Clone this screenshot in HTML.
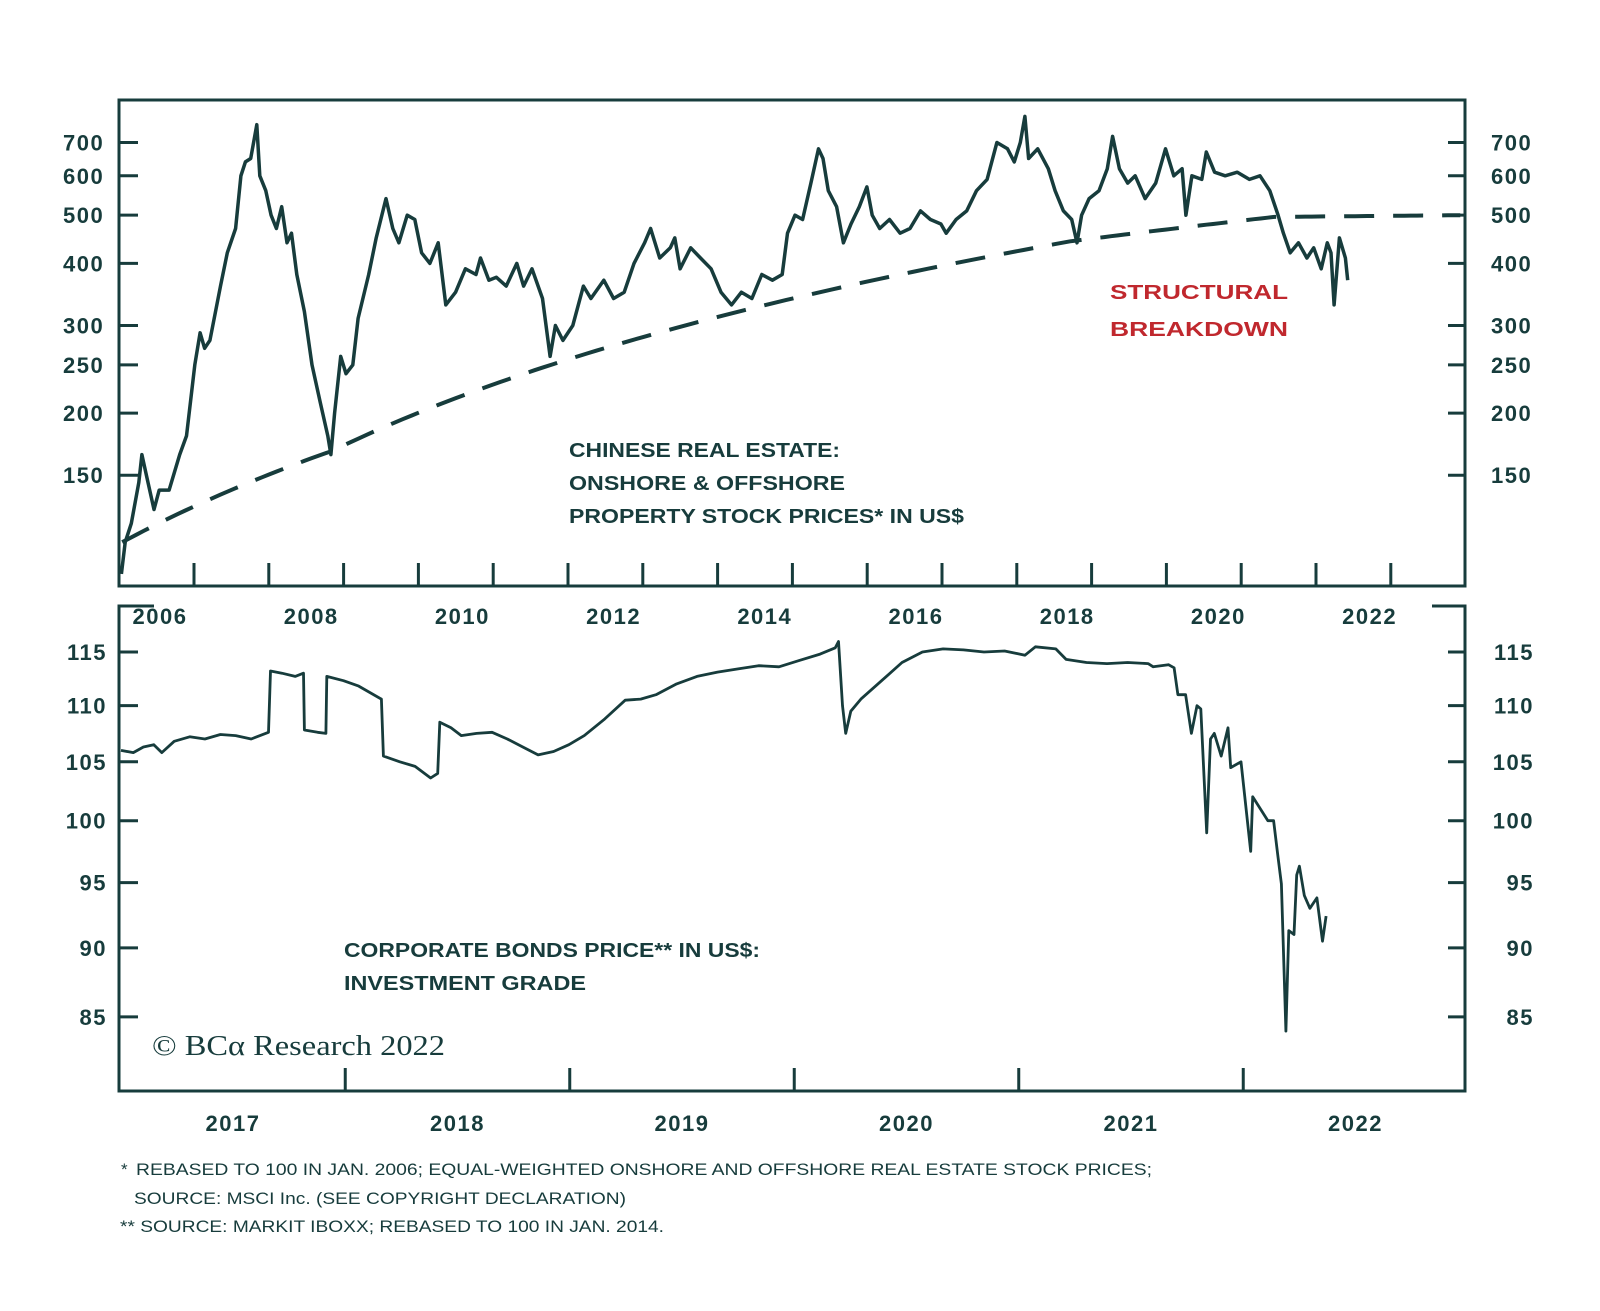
<!DOCTYPE html>
<html><head><meta charset="utf-8"><title>Chinese Real Estate</title>
<style>
html,body{margin:0;padding:0;background:#fff;}
svg{display:block;font-family:"Liberation Sans",sans-serif;}
.tk{font-weight:bold;font-size:22px;fill:#173c3c;letter-spacing:1.5px;}
.lbl{font-weight:bold;font-size:20px;fill:#173c3c;}
.fn{font-size:17px;fill:#173c3c;}
</style></head>
<body>
<svg id="chart" width="1600" height="1311" viewBox="0 0 1600 1311">
  <g id="top"></g>
  <g id="bot"></g>
  <g>
    <text class="lbl" x="569" y="457" textLength="271" lengthAdjust="spacingAndGlyphs">CHINESE REAL ESTATE:</text>
    <text class="lbl" x="569" y="490" textLength="276" lengthAdjust="spacingAndGlyphs">ONSHORE &amp; OFFSHORE</text>
    <text class="lbl" x="569" y="523" textLength="395" lengthAdjust="spacingAndGlyphs">PROPERTY STOCK PRICES* IN US$</text>
    <text class="lbl" x="1110" y="299" textLength="178" lengthAdjust="spacingAndGlyphs" style="fill:#c0282e">STRUCTURAL</text>
    <text class="lbl" x="1110" y="336" textLength="178" lengthAdjust="spacingAndGlyphs" style="fill:#c0282e">BREAKDOWN</text>
  </g>
  <g>
    <text class="lbl" x="344" y="957" textLength="416" lengthAdjust="spacingAndGlyphs">CORPORATE BONDS PRICE** IN US$:</text>
    <text class="lbl" x="344" y="990" textLength="242" lengthAdjust="spacingAndGlyphs">INVESTMENT GRADE</text>
    <text x="152" y="1055" textLength="293" lengthAdjust="spacingAndGlyphs" style="font-family:'Liberation Serif',serif;font-size:29px;fill:#173c3c">© BCα Research 2022</text>
  </g>
  <g>
    <text class="fn" x="121" y="1175">*</text>
    <text class="fn" x="136" y="1175" textLength="1016" lengthAdjust="spacingAndGlyphs">REBASED TO 100 IN JAN. 2006; EQUAL-WEIGHTED ONSHORE AND OFFSHORE REAL ESTATE STOCK PRICES;</text>
    <text class="fn" x="134" y="1204" textLength="492" lengthAdjust="spacingAndGlyphs">SOURCE: MSCI Inc. (SEE COPYRIGHT DECLARATION)</text>
    <text class="fn" x="120" y="1232" textLength="544" lengthAdjust="spacingAndGlyphs">** SOURCE: MARKIT IBOXX; REBASED TO 100 IN JAN. 2014.</text>
  </g>
</svg>
<script>
// ---- top panel data ----
const topDates=[2005.49,2005.54,2005.62,2005.72,2005.76,2005.82,2005.92,2005.99,2006.12,2006.26,2006.35,2006.46,2006.53,2006.59,2006.66,2006.80,2006.89,2007.00,2007.07,2007.13,2007.20,2007.28,2007.32,2007.40,2007.47,2007.54,2007.61,2007.68,2007.74,2007.81,2007.91,2008.01,2008.12,2008.22,2008.26,2008.31,2008.39,2008.46,2008.55,2008.62,2008.76,2008.86,2008.99,2009.08,2009.16,2009.27,2009.37,2009.46,2009.57,2009.68,2009.78,2009.91,2010.04,2010.18,2010.24,2010.35,2010.45,2010.58,2010.72,2010.81,2010.92,2011.06,2011.16,2011.23,2011.33,2011.46,2011.60,2011.70,2011.87,2012.00,2012.14,2012.27,2012.41,2012.49,2012.61,2012.75,2012.81,2012.88,2013.02,2013.15,2013.29,2013.42,2013.56,2013.69,2013.83,2013.96,2014.10,2014.23,2014.30,2014.40,2014.50,2014.61,2014.71,2014.77,2014.84,2014.95,2015.04,2015.14,2015.25,2015.35,2015.42,2015.52,2015.65,2015.79,2015.92,2016.06,2016.19,2016.33,2016.40,2016.53,2016.67,2016.80,2016.94,2017.07,2017.21,2017.30,2017.38,2017.44,2017.49,2017.61,2017.75,2017.84,2017.95,2018.06,2018.13,2018.19,2018.29,2018.42,2018.53,2018.60,2018.69,2018.80,2018.90,2019.03,2019.17,2019.30,2019.41,2019.52,2019.57,2019.65,2019.78,2019.84,2019.95,2020.09,2020.25,2020.41,2020.55,2020.68,2020.79,2020.86,2020.95,2021.06,2021.17,2021.26,2021.36,2021.44,2021.49,2021.53,2021.60,2021.68,2021.71];
const topValues=[95,110,120,145,165,150,128,140,140,165,180,250,290,270,280,360,420,470,600,640,650,760,600,560,500,470,520,440,460,380,320,250,210,180,165,200,260,240,250,310,380,450,540,470,440,500,490,420,400,440,330,350,390,380,410,370,375,360,400,360,390,340,260,300,280,300,360,340,370,340,350,400,440,470,410,430,450,390,430,410,390,350,330,350,340,380,370,380,460,500,490,580,680,650,560,520,440,480,520,570,500,470,490,460,470,510,490,480,460,490,510,560,590,700,680,640,700,790,650,680,620,560,510,490,440,500,540,560,620,720,620,580,600,540,580,680,600,620,500,600,590,670,610,600,610,590,600,560,500,460,420,440,410,430,390,440,420,330,450,410,370];
const trendDates=[2005.5,2008.28,2011.77,2018.04,2020.74,2023.2];
const trendValues=[110,168,267,443,496,500];
const topTicks=[150,200,250,300,400,500,600,700];
const topYearLabels=[2006,2008,2010,2012,2014,2016,2018,2020,2022];
// ---- bottom panel data ----
const botDates=[2016.501,2016.556,2016.601,2016.647,2016.683,2016.738,2016.807,2016.875,2016.944,2017.012,2017.081,2017.158,2017.167,2017.218,2017.277,2017.314,2017.318,2017.377,2017.414,2017.418,2017.492,2017.560,2017.661,2017.670,2017.743,2017.811,2017.880,2017.912,2017.921,2017.971,2018.017,2018.085,2018.154,2018.222,2018.291,2018.359,2018.428,2018.496,2018.565,2018.656,2018.747,2018.816,2018.884,2018.976,2019.067,2019.158,2019.250,2019.341,2019.432,2019.523,2019.615,2019.683,2019.697,2019.715,2019.729,2019.752,2019.797,2019.889,2019.980,2020.071,2020.163,2020.254,2020.345,2020.437,2020.528,2020.574,2020.665,2020.711,2020.802,2020.893,2020.985,2021.076,2021.099,2021.167,2021.192,2021.209,2021.243,2021.269,2021.294,2021.311,2021.337,2021.354,2021.371,2021.402,2021.432,2021.444,2021.490,2021.533,2021.542,2021.576,2021.610,2021.635,2021.653,2021.670,2021.690,2021.703,2021.726,2021.738,2021.750,2021.772,2021.797,2021.828,2021.853,2021.869];
const botValues=[106,105.8,106.3,106.5,105.8,106.8,107.2,107.0,107.4,107.3,107.0,107.6,113.2,113,112.7,113,107.8,107.6,107.5,112.7,112.3,111.8,110.6,105.5,105,104.6,103.6,104,108.5,108,107.3,107.5,107.6,107,106.3,105.6,105.9,106.5,107.3,108.8,110.5,110.6,111.0,112.0,112.7,113.1,113.4,113.7,113.6,114.2,114.8,115.4,116,110,107.5,109.5,110.6,112.3,114.0,115.0,115.3,115.2,115.0,115.1,114.7,115.5,115.3,114.3,114.0,113.9,114.0,113.9,113.6,113.8,113.5,111,111,107.5,110,109.7,99,107,107.5,105.5,108,104.5,105,97.5,102,101,100,100,97.3,94.9,84,91.3,91,95.6,96.3,94,93,93.8,90.5,92.4];
const botTicks=[85,90,95,100,105,110,115];
const botYearLabels=[2017,2018,2019,2020,2021,2022];

const NS='http://www.w3.org/2000/svg';
const C='#173c3c';
function mk(tag,attrs,parent){const e=document.createElementNS(NS,tag);for(const k in attrs)e.setAttribute(k,attrs[k]);parent.appendChild(e);return e;}

// top axes
const TL=119,TR=1465,TT=100,TB=586;
const xTop=t=>160+75.6*(t-2006);
const yTop=v=>142.5+216*Math.log(700/v);
const gT=document.getElementById('top');
const tf=mk('rect',{x:TL,y:TT,width:TR-TL,height:TB-TT,fill:'none',stroke:C,'stroke-width':3},gT);


topTicks.forEach(v=>{
  const y=yTop(v);
  const a=mk('line',{x1:TL,x2:TL+19,y1:y,y2:y,stroke:C,'stroke-width':3},gT);
  
  
  const b=mk('line',{x1:TR-17,x2:TR,y1:y,y2:y,stroke:C,'stroke-width':3},gT);
  
  
  const l=mk('text',{x:63,y:y+8,class:'tk'},gT);l.textContent=v;
  
  
  const r=mk('text',{x:1491,y:y+8,class:'tk'},gT);r.textContent=v;
  
  
});
for(let k=0;k<17;k++){
  const x=194+74.8*k;
  const t=mk('line',{x1:x,x2:x,y1:TB-23,y2:TB,stroke:C,'stroke-width':3},gT);
  
  
}
topYearLabels.forEach(yr=>{
  const l=mk('text',{x:xTop(yr),y:624,class:'tk','text-anchor':'middle'},gT);l.textContent=yr;
  
  
});
const trendPts=[];
for(let i=0;i<trendDates.length-1;i++){
  for(let s=0;s<=30;s++){
    const f=s/30;
    const d=trendDates[i]+(trendDates[i+1]-trendDates[i])*f;
    const v=trendValues[i]+(trendValues[i+1]-trendValues[i])*f;
    trendPts.push(xTop(d).toFixed(1)+','+yTop(v).toFixed(1));
  }
}
const tr=mk('polyline',{points:trendPts.join(' '),fill:'none',stroke:C,'stroke-width':4,'stroke-dasharray':'30 19'},gT);


const ts=mk('polyline',{points:topDates.map((d,i)=>xTop(d).toFixed(1)+','+yTop(topValues[i]).toFixed(1)).join(' '),fill:'none',stroke:C,'stroke-width':3.5,'stroke-linejoin':'round'},gT);



// bottom axes
const BL=119,BR=1465,BT=606,BB=1091;
const xBot=t=>233+224.5*(t-2017);
const yBot=v=>652+1207*Math.log(115/v);
const gB=document.getElementById('bot');
const bf=mk('path',{d:`M${BL+35},${BT} L${BL},${BT} L${BL},${BB} L${BR},${BB} L${BR},${BT} L${BR-33},${BT}`,fill:'none',stroke:C,'stroke-width':3},gB);


botTicks.forEach(v=>{
  const y=yBot(v);
  const a=mk('line',{x1:BL,x2:BL+19,y1:y,y2:y,stroke:C,'stroke-width':3},gB);
  
  
  const b=mk('line',{x1:BR-17,x2:BR,y1:y,y2:y,stroke:C,'stroke-width':3},gB);
  
  
  const l=mk('text',{x:107,y:y+8,class:'tk','text-anchor':'end'},gB);l.textContent=v;
  
  
  const r=mk('text',{x:1534,y:y+8,class:'tk','text-anchor':'end'},gB);r.textContent=v;
  
  
});
for(let k=0;k<5;k++){
  const x=xBot(2017.5+k);
  const t=mk('line',{x1:x,x2:x,y1:BB-23,y2:BB,stroke:C,'stroke-width':3},gB);
  
  
}
botYearLabels.forEach(yr=>{
  const l=mk('text',{x:xBot(yr),y:1131,class:'tk','text-anchor':'middle'},gB);l.textContent=yr;
  
  
});
const bs=mk('polyline',{points:botDates.map((d,i)=>xBot(d).toFixed(1)+','+yBot(botValues[i]).toFixed(1)).join(' '),fill:'none',stroke:C,'stroke-width':2.8,'stroke-linejoin':'round'},gB);


</script>
</body></html>
